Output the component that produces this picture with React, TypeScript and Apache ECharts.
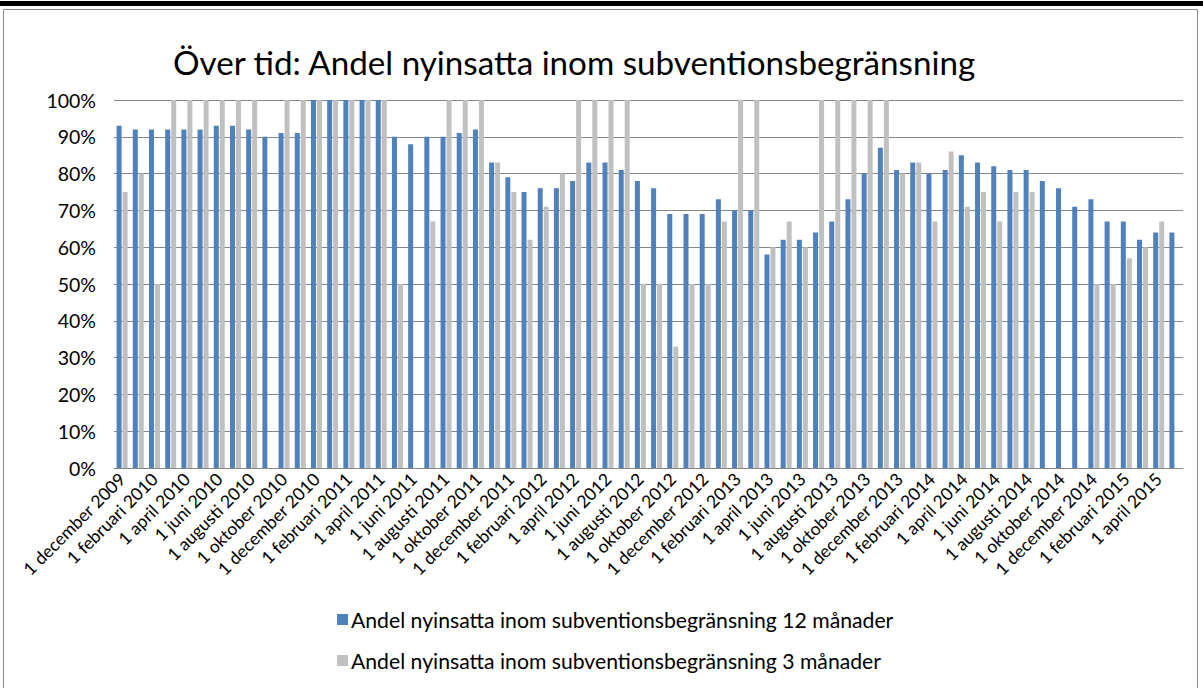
import React, { useEffect, useRef } from "react";
import * as echarts from "echarts";

const TITLE = "Över tid: Andel nyinsatta inom subventionsbegränsning";
const SERIES_12 = "Andel nyinsatta inom subventionsbegränsning 12 månader";
const SERIES_3 = "Andel nyinsatta inom subventionsbegränsning 3 månader";

const categories: string[] = [
  "1 december 2009",
  "1 januari 2010", "1 februari 2010", "1 mars 2010", "1 april 2010", "1 maj 2010", "1 juni 2010",
  "1 juli 2010", "1 augusti 2010", "1 september 2010", "1 oktober 2010", "1 november 2010", "1 december 2010",
  "1 januari 2011", "1 februari 2011", "1 mars 2011", "1 april 2011", "1 maj 2011", "1 juni 2011",
  "1 juli 2011", "1 augusti 2011", "1 september 2011", "1 oktober 2011", "1 november 2011", "1 december 2011",
  "1 januari 2012", "1 februari 2012", "1 mars 2012", "1 april 2012", "1 maj 2012", "1 juni 2012",
  "1 juli 2012", "1 augusti 2012", "1 september 2012", "1 oktober 2012", "1 november 2012", "1 december 2012",
  "1 januari 2013", "1 februari 2013", "1 mars 2013", "1 april 2013", "1 maj 2013", "1 juni 2013",
  "1 juli 2013", "1 augusti 2013", "1 september 2013", "1 oktober 2013", "1 november 2013", "1 december 2013",
  "1 januari 2014", "1 februari 2014", "1 mars 2014", "1 april 2014", "1 maj 2014", "1 juni 2014",
  "1 juli 2014", "1 augusti 2014", "1 september 2014", "1 oktober 2014", "1 november 2014", "1 december 2014",
  "1 januari 2015", "1 februari 2015", "1 mars 2015", "1 april 2015", "1 maj 2015",
];

// percent values; null = no bar
const values12: (number | null)[] = [
  93,
  92, 92, 92, 92, 92, 93, 93, 92, 90, 91, 91, 100,
  100, 100, 100, 100, 90, 88, 90, 90, 91, 92, 83, 79,
  75, 76, 76, 78, 83, 83, 81, 78, 76, 69, 69, 69,
  73, 70, 70, 58, 62, 62, 64, 67, 73, 80, 87, 81,
  83, 80, 81, 85, 83, 82, 81, 81, 78, 76, 71, 73,
  67, 67, 62, 64, 64,
];

const values3: (number | null)[] = [
  75,
  80, 50, 100, 100, 100, 100, 100, 100, null, 100, 100, 100,
  100, 100, 100, 100, 50, null, 67, 100, 100, 100, 83, 75,
  62, 71, 80, 100, 100, 100, 100, 50, 50, 33, 50, 50,
  67, 100, 100, 60, 67, 60, 100, 100, 100, 100, 100, 80,
  83, 67, 86, 71, 75, 67, 75, 75, null, null, null, 50,
  50, 57, 60, 67, null,
];

const yTicks = { min: 0, max: 100, interval: 10 };

const FONT = "Lato";

export default function App() {
  const ref = useRef<HTMLDivElement>(null);
  useEffect(() => {
    document.body.style.margin = "0";
    if (!ref.current) return;
    const chart = echarts.init(ref.current, null, { renderer: "svg" });
    chart.setOption({
      animation: false,
      backgroundColor: "#ffffff",
      textStyle: { fontFamily: FONT, color: "#000" },
      title: {
        text: TITLE,
        left: 168,
        top: 40,
        textStyle: { fontFamily: FONT, fontSize: 33.2, fontWeight: "normal", color: "#000" },
      },
      graphic: [
        { type: "rect", shape: { x: 0, y: 1, width: 1203, height: 5 }, style: { fill: "#000" }, silent: true },
        {
          type: "rect",
          shape: { x: 3.5, y: 9.5, width: 1194, height: 700 },
          style: { fill: "none", stroke: "#8c8c8c", lineWidth: 1 },
          silent: true,
        },
      ],
      legend: {
        orient: "vertical",
        left: 332,
        top: 604,
        itemWidth: 11,
        itemHeight: 11,
        itemGap: 20,
        icon: "rect",
        textStyle: { fontFamily: FONT, fontSize: 21.2, color: "#000", padding: [0, 0, 0, -2] },
        data: [SERIES_12, SERIES_3],
      },
      grid: { left: 114, right: 20, top: 100, bottom: 220, containLabel: false },
      xAxis: {
        type: "category",
        data: categories,
        axisTick: { show: false },
        axisLine: { lineStyle: { color: "#868686", width: 1 } },
        axisLabel: {
          interval: 1,
          rotate: 45,
          margin: 8,
          fontFamily: FONT,
          fontSize: 17.5,
          color: "#000",
        },
      },
      yAxis: {
        type: "value",
        min: yTicks.min,
        max: yTicks.max,
        interval: yTicks.interval,
        axisLine: { show: false },
        axisTick: { show: false },
        splitLine: { lineStyle: { color: "#868686", width: 1 } },
        axisLabel: {
          formatter: "{value}%",
          fontFamily: FONT,
          fontSize: 19.5,
          color: "#000",
          margin: 18,
        },
      },
      series: [
        {
          name: SERIES_12,
          type: "bar",
          data: values12,
          barWidth: 5,
          barGap: "20%",
          itemStyle: { color: "#4F81BD" },
        },
        {
          name: SERIES_3,
          type: "bar",
          data: values3,
          barWidth: 5,
          itemStyle: { color: "#C0C0C0" },
        },
      ],
    });
    return () => chart.dispose();
  }, []);
  return (
    <div
      ref={ref}
      style={{ position: "absolute", left: 0, top: 0, width: 1203, height: 688 }}
    />
  );
}
